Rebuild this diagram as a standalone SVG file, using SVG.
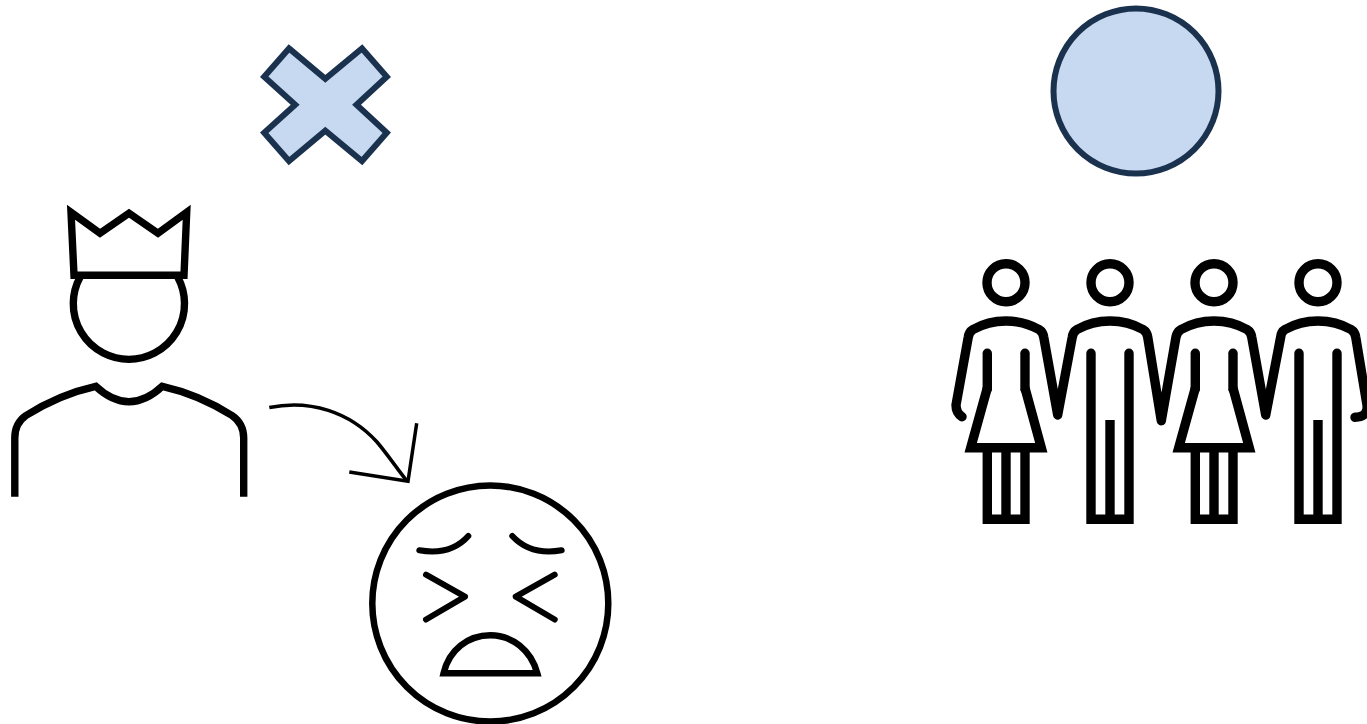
<svg xmlns="http://www.w3.org/2000/svg" width="1367" height="724" viewBox="0 0 1367 724">
<style>
.i{fill:none;stroke:#000;stroke-width:7.4}
.p{fill:none;stroke:#000;stroke-width:9.4}
.r{stroke-linecap:round;stroke-linejoin:round}
.s{fill:#c7d9f1;stroke:#1b324f;stroke-width:6}
</style>
<defs>
<g id="woman"><circle class="p" cx="1006" cy="282.7" r="19"/><path class="p r" d="M987.3 353.3V389.3"/><path class="p r" d="M1025 353.3V389.3"/><path class="p" d="M987.3 388L970.7 447.7H1041.3L1025 388M987.3 447.7V519.3H1025V447.7M1006 447.7V519.3"/></g>
<g id="man"><circle class="p" cx="1110" cy="282.7" r="19"/><path class="p" stroke-linecap="round" d="M1091 353.3V519.3H1129V353.3"/><path class="p" d="M1110 420V519.3"/></g>
</defs>
<rect width="1367" height="724" fill="#fff"/>
<g id="cross"><path class="s" d="M289 48.4L325.3 78.8L362 48.4L386.8 76.7L356.5 104.7L386.8 132.7L362 161L325.3 130.6L289 161L264.2 132.7L295.2 104.7L264.2 76.7Z"/></g>
<g id="circle"><circle class="s" cx="1136" cy="91" r="82.5"/></g>
<g id="king">
<path class="i" d="M80 277.3A55.6 55.6 0 1 0 177.8 277.3"/>
<path class="i" d="M71 212.2L100 233.3L129 213.3L158 233.3L186.7 212.2L184 275.3H74Z"/>
<path class="i" d="M14.8 496.7V438C14.8 428 18 421 26 415.5C48 401.5 70 392 95.7 386.3C106 396 117 401.7 129 401.7C141 401.7 152 396 162.3 386.3C188 392 210 401.5 232 415.5C240 421 243.7 428 243.7 438V496.7"/>
</g>
<g id="face" stroke-linecap="round" fill="none" stroke="#000">
<circle cx="490.3" cy="603.5" r="118" stroke-width="6.5"/>
<path stroke-width="6" d="M419.3 550.3C438 553.5 455 551 468.3 536"/>
<path stroke-width="6" d="M512.3 536C526 551 543 553.5 561.7 550.3"/>
<path stroke-width="6" stroke-linejoin="round" d="M426 574.7L465 596.7L426 619.5"/>
<path stroke-width="6" stroke-linejoin="round" d="M554.7 574.7L515.7 596.7L554.7 619.5"/>
<path stroke-width="6.5" stroke-linecap="butt" d="M443.6 673.3C449 650 468 635.3 490.3 635.3C512 635.3 531 650 537.3 673.3Z"/>
</g>
<g id="people">
<g id="person1"><use href="#woman"/></g>
<g id="person2"><use href="#man"/></g>
<g id="person3"><use href="#woman" x="208"/></g>
<g id="person4"><use href="#man" x="208"/></g>
<path id="arms" class="p r" d="M962 416.7Q956 413 956 405L968.3 337Q969 332 973 329.5Q988 321 1006 321Q1024 321 1039 329.5Q1043 332 1043.7 337L1057.7 415L1072.3 337Q1073 332 1077 329.5Q1092 321 1110 321Q1128 321 1143 329.5Q1147 332 1147.7 337L1161.3 420.7L1176 337Q1177 332 1181 329.5Q1196 321 1214 321Q1232 321 1247 329.5Q1251 332 1251.7 337L1265.7 415L1280.7 337Q1281 332 1285 329.5Q1300 321 1318 321Q1336 321 1351 329.5Q1355 332 1355.7 337L1367 405Q1368.5 417 1355 417.3"/>
</g>
<g id="connectors" fill="none" stroke="#000" stroke-width="3.5">
<path d="M269.3 407.5C310 399 350 412 377 442C388 455 398 470 407 481"/>
<path d="M416.7 423.3L408 481.2L349.3 472"/>
</g>
</svg>
